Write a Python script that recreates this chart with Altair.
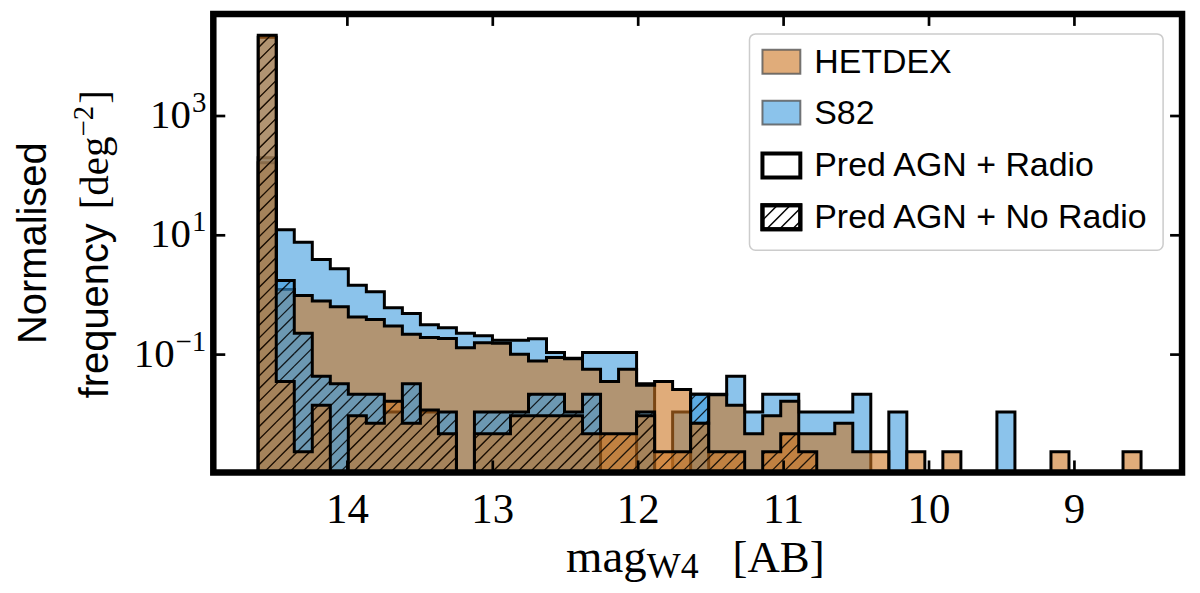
import altair as alt
import pandas as pd
import numpy as np

# ---------------- data ----------------
EDGE_START = 14.613      # first bin edge (mag)
BIN_WIDTH = 0.1239       # bin width (mag)
N_BINS = 49
AREA_HETDEX = 424.0      # deg^2
AREA_S82 = 92.0          # deg^2

hetdex_radio = [69500, 526, 416, 335, 270, 181, 165, 128, 93, 82, 79, 55, 67, 66, 43, 33,
                38, 36, 24, 15, 24, 13, 15, 11, 3, 9, 6, 2, 4, 7, 2, 2, 3, 1, 1, 0, 1, 0, 1,
                0, 0, 0, 0, 0, 1, 0, 0, 0, 1]
s82_radio = [18300, 1141, 703, 362, 253, 134, 104, 56, 45, 29, 26, 21, 19, 16, 16, 17,
             10, 8, 10, 10, 10, 3, 0, 1, 2, 2, 4, 1, 2, 2, 1, 1, 1, 2, 0, 1, 0, 0, 0,
             0, 0, 1, 0, 0, 0, 0, 0, 0, 0]
s82_noradio = [1923000, 161, 21, 4, 3, 2, 2, 1, 3, 1, 1, 0, 1, 1, 1, 2, 2, 1, 2, 0, 0, 1,
               0, 0, 2, 0, 0, 0, 0, 0, 0, 0, 0, 0, 0, 0, 0, 0, 0, 0, 0, 0, 0, 0, 0, 0, 0, 0, 0]
hetdex_noradio = [9540000, 15, 1, 6, 0, 4, 3, 7, 3, 5, 2, 0, 2, 2, 4, 4, 4, 4, 2, 2, 2, 4,
                  1, 1, 3, 1, 1, 0, 1, 2, 1, 0, 0, 0, 0, 0, 0, 0, 0, 0, 0, 0, 0, 0, 0, 0, 0, 0, 0]

x_ticks = [14, 13, 12, 11, 10, 9]
y_ticks = [1e3, 1e1, 1e-1]
legend_labels = ["HETDEX", "S82", "Pred AGN + Radio", "Pred AGN + No Radio"]

# ---------------- styling / geometry ----------------
W, H = 972, 460
X_LEFT, X_RIGHT = 14.922, 8.260
LOG_BOT, LOG_TOP = -2.975, 4.711
FLOOR = 1e-9
ORANGE = "#CB7521"
BLUE = "#3E9BDE"
ALPHA = 0.6
HATCH = 12.7
SERIF = "Liberation Serif"
SANS = "Liberation Sans"

edges = [EDGE_START - i * BIN_WIDTH for i in range(N_BINS + 1)]
centers = [(edges[i] + edges[i + 1]) / 2 for i in range(N_BINS)]

xscale = alt.Scale(domain=[X_RIGHT, X_LEFT], reverse=True, nice=False, zero=False)
yscale = alt.Scale(type="log", domain=[10 ** LOG_BOT, 10 ** LOG_TOP], nice=False)


def density(counts, area):
    return [c / area if c > 0 else FLOOR for c in counts]


def fill_df(vals):
    # bin centres plus the two outer edges; "step" interpolation puts the steps on the bin edges
    mags = [edges[0]] + centers + [edges[-1]]
    ys = [vals[0]] + list(vals) + [vals[-1]]
    return pd.DataFrame({"mag": mags, "val": ys, "base": [FLOOR] * len(mags)})


def outline_df(vals):
    rows = [{"k": 0, "mag": edges[0], "val": FLOOR}]
    for i, v in enumerate(vals):
        rows.append({"k": len(rows), "mag": edges[i], "val": v})
        rows.append({"k": len(rows), "mag": edges[i + 1], "val": v})
    rows.append({"k": len(rows), "mag": edges[-1], "val": FLOOR})
    return pd.DataFrame(rows)


def to_px(m):
    return (X_LEFT - m) / (X_LEFT - X_RIGHT) * W


def to_mag(p):
    return X_LEFT - p / W * (X_LEFT - X_RIGHT)


def to_up(v):
    return (np.log10(v) - LOG_BOT) / (LOG_TOP - LOG_BOT) * H


def to_val(u):
    return 10 ** (LOG_BOT + u / H * (LOG_TOP - LOG_BOT))


def hatch_df(vals):
    segs = []
    for i, v in enumerate(vals):
        if v <= FLOOR:
            continue
        a, b = to_px(edges[i]), to_px(edges[i + 1])
        h = min(to_up(v), H)
        if h <= 0:
            continue
        kmin = int(np.floor((a - h) / HATCH)) - 1
        kmax = int(np.ceil(b / HATCH)) + 1
        for k in range(kmin, kmax + 1):
            c = k * HATCH
            lo, hi = max(a, c), min(b, c + h)
            if hi - lo > 0.4:
                segs.append({"mag": to_mag(lo), "val": to_val(lo - c),
                             "mag2": to_mag(hi), "val2": to_val(hi - c)})
    return pd.DataFrame(segs)


def X(f):
    return alt.X(f"{f}:Q", scale=xscale, axis=None)


def Y(f):
    return alt.Y(f"{f}:Q", scale=yscale, axis=None)


def hist_layers(vals, color, hatched):
    out = [
        alt.Chart(fill_df(vals)).mark_area(color=color, opacity=ALPHA, clip=True, interpolate="step")
        .encode(x=X("mag"), y=Y("val"), y2="base:Q")
    ]
    if hatched:
        out.append(
            alt.Chart(hatch_df(vals)).mark_rule(color="black", strokeWidth=1.3, opacity=0.85, clip=True)
            .encode(x=X("mag"), y=Y("val"), x2="mag2:Q", y2="val2:Q")
        )
    out.append(
        alt.Chart(outline_df(vals)).mark_line(color="black", strokeWidth=3, clip=True,
                                              strokeJoin="miter", interpolate="linear")
        .encode(x=X("mag"), y=Y("val"), order="k:Q")
    )
    return out


layers = []
layers += hist_layers(density(s82_radio, AREA_S82), BLUE, False)
layers += hist_layers(density(hetdex_radio, AREA_HETDEX), ORANGE, False)
layers += hist_layers(density(s82_noradio, AREA_S82), BLUE, True)
layers += hist_layers(density(hetdex_noradio, AREA_HETDEX), ORANGE, True)

one = pd.DataFrame({"a": [0]})

# frame
layers.append(
    alt.Chart(one).mark_rect(fill="transparent", stroke="black", strokeWidth=6.5)
    .encode(x=alt.value(0), x2=alt.value(W), y=alt.value(0), y2=alt.value(H))
)

# ticks (inward, all four sides)
xt = pd.DataFrame({"t": x_ticks, "label": [str(t) for t in x_ticks]})
yt = pd.DataFrame({"t": y_ticks})
TL = 12
layers.append(alt.Chart(xt).mark_rule(color="black", strokeWidth=2.7)
              .encode(x=X("t"), y=alt.value(H), y2=alt.value(H - TL)))
layers.append(alt.Chart(xt).mark_rule(color="black", strokeWidth=2.7)
              .encode(x=X("t"), y=alt.value(0), y2=alt.value(TL)))
layers.append(alt.Chart(yt).mark_rule(color="black", strokeWidth=2.7)
              .encode(y=Y("t"), x=alt.value(0), x2=alt.value(TL)))
layers.append(alt.Chart(yt).mark_rule(color="black", strokeWidth=2.7)
              .encode(y=Y("t"), x=alt.value(W), x2=alt.value(W - TL)))

# x tick labels
layers.append(alt.Chart(xt).mark_text(font=SERIF, fontSize=43, baseline="top", align="center", color="black")
              .encode(x=X("t"), y=alt.value(H + 17), text="label:N"))

# y tick labels 10^n
EXP_FS = 29
char_w = {"−": 0.564}
for t in y_ticks:
    e = int(round(np.log10(t)))
    es = str(e).replace("-", "−")
    wexp = sum(char_w.get(ch, 0.5) for ch in es) * EXP_FS
    d = pd.DataFrame({"t": [t]})
    layers.append(alt.Chart(d).mark_text(font=SERIF, fontSize=41, align="right", baseline="middle", color="black")
                  .encode(x=alt.value(-8 - wexp), y=Y("t"), text=alt.value("10")))
    layers.append(alt.Chart(d).mark_text(font=SERIF, fontSize=EXP_FS, align="right", baseline="middle",
                                         dy=-13, color="black")
                  .encode(x=alt.value(-7), y=Y("t"), text=alt.value(es)))

# x axis title: mag_W4 [AB]
TB = H + 100
layers.append(alt.Chart(one).mark_text(font=SERIF, fontSize=47, align="left", baseline="alphabetic")
              .encode(x=alt.value(354), y=alt.value(TB), text=alt.value("mag")))
layers.append(alt.Chart(one).mark_text(font=SERIF, fontSize=36, align="left", baseline="alphabetic")
              .encode(x=alt.value(435), y=alt.value(TB + 6), text=alt.value("W4")))
layers.append(alt.Chart(one).mark_text(font=SERIF, fontSize=45, align="left", baseline="alphabetic")
              .encode(x=alt.value(521), y=alt.value(TB), text=alt.value("[AB]")))

# y axis title
YC = H / 2
layers.append(alt.Chart(one).mark_text(font=SANS, fontSize=40, angle=270, align="center", baseline="alphabetic")
              .encode(x=alt.value(-168), y=alt.value(YC), text=alt.value("Normalised")))
L2X = -106
layers.append(alt.Chart(one).mark_text(font=SANS, fontSize=40, angle=270, align="right", baseline="alphabetic")
              .encode(x=alt.value(L2X), y=alt.value(210), text=alt.value("frequency")))
layers.append(alt.Chart(one).mark_text(font=SERIF, fontSize=41, angle=270, align="left", baseline="alphabetic")
              .encode(x=alt.value(L2X), y=alt.value(196), text=alt.value("[deg")))
layers.append(alt.Chart(one).mark_text(font=SERIF, fontSize=29, angle=270, align="left", baseline="alphabetic")
              .encode(x=alt.value(L2X - 15), y=alt.value(196 - 73), text=alt.value("−2")))
layers.append(alt.Chart(one).mark_text(font=SERIF, fontSize=41, angle=270, align="left", baseline="alphabetic")
              .encode(x=alt.value(L2X), y=alt.value(196 - 73 - 33), text=alt.value("]")))

# legend
LX0, LX1, LY0, LY1 = 538, 953, 20, 237
layers.append(alt.Chart(one).mark_rect(fill="white", fillOpacity=0.85, stroke="#cccccc", strokeWidth=1.5,
                                       cornerRadius=6)
              .encode(x=alt.value(LX0), x2=alt.value(LX1), y=alt.value(LY0), y2=alt.value(LY1)))
rows_y = [48, 99, 152, 204]
PX0, PX1, PH = 551, 589, 12
patch_styles = [
    dict(fill=ORANGE, fillOpacity=ALPHA, stroke="#555555", strokeWidth=2, strokeOpacity=0.8),
    dict(fill=BLUE, fillOpacity=ALPHA, stroke="#555555", strokeWidth=2, strokeOpacity=0.8),
    dict(fill="white", stroke="black", strokeWidth=4),
    dict(fill="white", stroke="black", strokeWidth=4),
]
for lab, ry, st in zip(legend_labels, rows_y, patch_styles):
    layers.append(alt.Chart(one).mark_rect(**st)
                  .encode(x=alt.value(PX0), x2=alt.value(PX1), y=alt.value(ry - PH), y2=alt.value(ry + PH)))
    layers.append(alt.Chart(one).mark_text(font=SANS, fontSize=34, align="left", baseline="middle", color="black")
                  .encode(x=alt.value(603), y=alt.value(ry + 1), text=alt.value(lab)))

# hatch lines in last legend patch
ry = rows_y[3]
ph = 2 * PH
pw = PX1 - PX0
for k in range(-3, 5):
    c = k * 13.0 + 4
    lo, hi = max(0, c), min(pw, c + ph)
    if hi - lo > 1:
        layers.append(alt.Chart(one).mark_rule(color="black", strokeWidth=1.5)
                      .encode(x=alt.value(PX0 + lo), x2=alt.value(PX0 + hi),
                              y=alt.value(ry + PH - (lo - c)), y2=alt.value(ry + PH - (hi - c))))
layers.append(alt.Chart(one).mark_rect(fill="transparent", stroke="black", strokeWidth=4)
              .encode(x=alt.value(PX0), x2=alt.value(PX1), y=alt.value(ry - PH), y2=alt.value(ry + PH)))

chart = (
    alt.layer(*layers)
    .properties(width=W, height=H,
                padding={"left": 206, "top": 5, "right": 10, "bottom": 112},
                autosize=alt.AutoSizeParams(type="none"),
                background="white")
    .configure_view(stroke="transparent")
)

chart.save("out.html", embed_options={"renderer": "svg", "actions": False})
